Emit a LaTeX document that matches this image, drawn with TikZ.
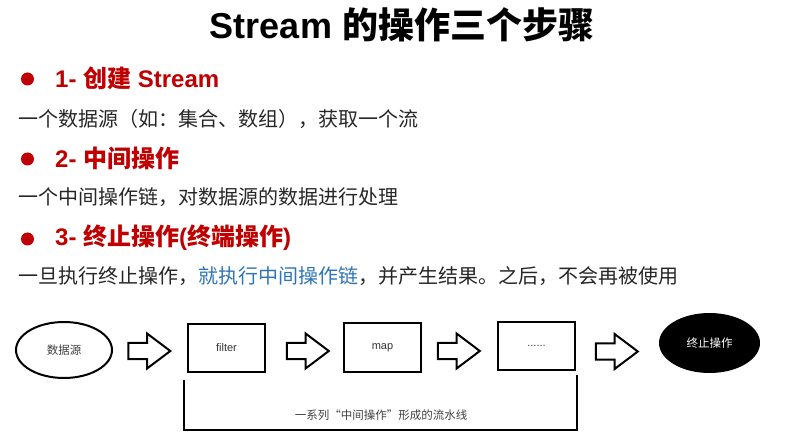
\documentclass[tikz,border=0pt]{standalone}
\usepackage{fontspec}
\setmainfont{Liberation Sans}
\newfontfamily\cjk{Noto Sans CJK SC}
\usetikzlibrary{shapes.geometric,shapes.arrows}
\definecolor{passored}{RGB}{192,0,0}
\definecolor{cadeiablue}{RGB}{46,117,182}
\tikzset{
  passo/.style={anchor=west, inner sep=0pt, text=passored, font=\bfseries\fontsize{24}{28}\selectfont},
  texto/.style={anchor=west, inner sep=0pt, font=\cjk\fontsize{20}{24}\selectfont, text=black!85},
  ponto/.style={circle, fill=passored, inner sep=0pt, minimum size=13pt},
  caixa/.style={draw, line width=2pt, minimum width=77pt, minimum height=48pt, font=\fontsize{11}{13}\selectfont, text=black!80},
  seta/.style={draw, line width=2pt, single arrow, inner xsep=0pt, inner ysep=7pt, minimum height=42pt, single arrow head extend=9.5pt, single arrow tip angle=74},
  rotulo/.style={font=\cjk\fontsize{11.5}{13}\selectfont, text=black!75}
}
\begin{document}
\begin{tikzpicture}[x=1pt, y=-1pt]
  \useasboundingbox (0,0) rectangle (798,446);
  % Titulo
  \node at (402,25) (titulo) [font=\bfseries\fontsize{36}{40}\selectfont] {Stream {\cjk 的操作三个步骤}};
  % Passos
  \node at (27.5,79) (p1) [ponto] {};
  \node at (55,78) (passo1) [passo] {1- {\cjk 创建} Stream};
  \node at (18,119) (linha1) [texto] {一个数据源（如：集合、数组），获取一个流};
  \node at (27.5,159) (p2) [ponto] {};
  \node at (55,158) (passo2) [passo] {2- {\cjk 中间操作}};
  \node at (18,197) (linha2) [texto] {一个中间操作链，对数据源的数据进行处理};
  \node at (27.5,239) (p3) [ponto] {};
  \node at (55,238) (passo3) [passo] {3- {\cjk 终止操作}({\cjk 终端操作})};
  \node at (18,276) (linha3) [texto] {一旦执行终止操作，\textcolor{cadeiablue}{就执行中间操作链}，并产生结果。之后，不会再被使用};
  % Fluxo
  \node at (64,350) (fonte) [ellipse, draw, line width=2pt, minimum width=96pt, minimum height=56pt, rotulo] {数据源};
  \node at (144,351) (s1) [seta] {};
  \node at (226.5,348) (filtro) [caixa] {filter};
  \node at (302.5,351) (s2) [seta] {};
  \node at (382.5,347.5) (mapa) [caixa] {map};
  \node at (453.5,351) (s3) [seta] {};
  \node at (536.5,346) (resto) [caixa] {......};
  \node at (611.5,351.5) (s4) [seta] {};
  \node at (709.5,343) (fim) [ellipse, fill=black, minimum width=101pt, minimum height=60pt, rotulo, text=white] {终止操作};
  % Chave
  \coordinate (c1) at (184,380);
  \coordinate (c2) at (577,375);
  \draw[line width=2pt] (c1) -- ++(0,50) -| (c2);
  \node at (381,415) (legenda) [rotulo] {一系列“中间操作”形成的流水线};
\end{tikzpicture}
\end{document}
